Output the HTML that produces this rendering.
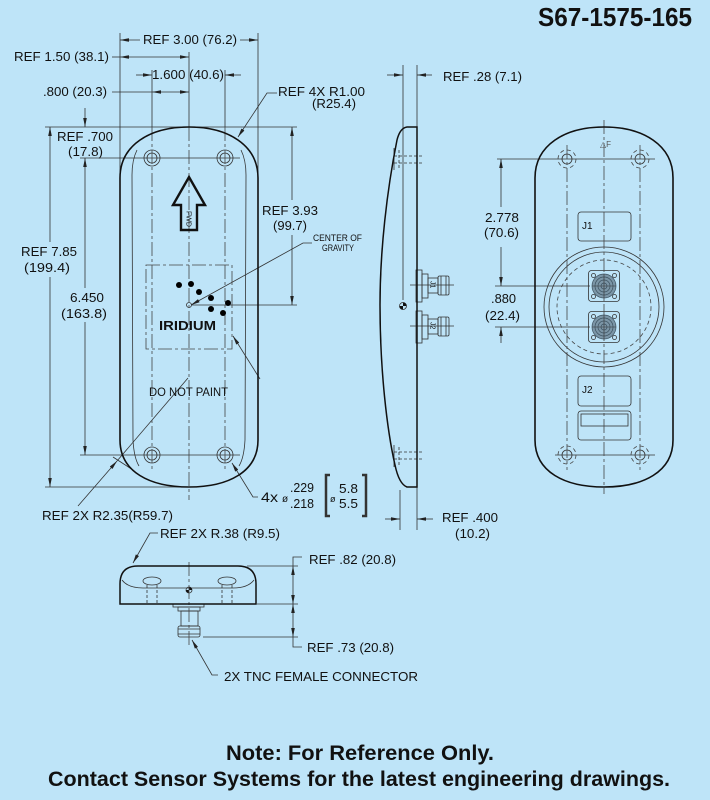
<!DOCTYPE html>
<html><head><meta charset="utf-8"><style>
html,body{margin:0;padding:0;background:#bee4f8;}
svg{display:block}
text{font-family:"Liberation Sans",Arial,sans-serif;fill:#111}
</style></head><body>
<svg width="710" height="800" viewBox="0 0 710 800" xmlns="http://www.w3.org/2000/svg">
<defs>
<marker id="a" viewBox="0 0 10 4" refX="10" refY="2" markerWidth="9" markerHeight="3.6" markerUnits="userSpaceOnUse" orient="auto"><path d="M0,0L10,2L0,4z" fill="#222"/></marker>
</defs>
<rect width="710" height="800" fill="#bee4f8"/>

<!-- ============ FRONT VIEW ============ -->
<g fill="none" stroke="#333" stroke-width="0.8">
  <path d="M120,33V175M258,33V175M189,52V127M152,70V127M225,70V127"/>
  <path d="M45,127H297M80,158H240M80,455H240M45,487H189M192,305H297"/>
  <path d="M140,40H120" marker-end="url(#a)"/>
  <path d="M240,40H258" marker-end="url(#a)"/>
  <path d="M112,57H120"/>
  <path d="M150,57H120" marker-end="url(#a)"/>
  <path d="M150,57H189" marker-end="url(#a)"/>
  <path d="M136,75H152" marker-end="url(#a)"/>
  <path d="M241,75H225" marker-end="url(#a)"/>
  <path d="M112,92H152"/>
  <path d="M170,92H152" marker-end="url(#a)"/>
  <path d="M170,92H189" marker-end="url(#a)"/>
  <path d="M85,108V127" marker-end="url(#a)"/>
  <path d="M85,288V158" marker-end="url(#a)"/>
  <path d="M85,322V455" marker-end="url(#a)"/>
  <path d="M50,242V127" marker-end="url(#a)"/>
  <path d="M50,277V487" marker-end="url(#a)"/>
  <path d="M292,200V127" marker-end="url(#a)"/>
  <path d="M292,235V305" marker-end="url(#a)"/>
  <path d="M277,93H267L238,137" marker-end="url(#a)"/>
  <path d="M312,243H303L191,305" marker-end="url(#a)"/>
  <path d="M260,379L233,336" marker-end="url(#a)"/>
  <path d="M117,461L188,378"/>
  <path d="M78,506L117,461" marker-end="url(#a)"/>
  <path d="M113,457L133,470"/>
  <path d="M258,497H253L232,463" marker-end="url(#a)"/>
  <path d="M137,150Q132,160 132,175L133,440Q134,458 139,466"/>
  <path d="M241,150Q246,160 246,175L245,440Q244,458 239,466"/>
  <circle cx="152" cy="158" r="8"/><circle cx="152" cy="158" r="5"/>
  <circle cx="225" cy="158" r="8"/><circle cx="225" cy="158" r="5"/>
  <circle cx="152" cy="455" r="8"/><circle cx="152" cy="455" r="5"/>
  <circle cx="225" cy="455" r="8"/><circle cx="225" cy="455" r="5"/>
  <circle cx="189" cy="305" r="2.5"/>
</g>
<g fill="none" stroke="#444" stroke-width="0.8" stroke-dasharray="14 3 3 3">
  <path d="M189,127V500M152,127V470M225,127V470"/>
  <rect x="146" y="265" width="86" height="84"/>
</g>
<path d="M120,178C120,145 150,127 189,127C228,127 258,145 258,178L258,440C258,472 228,487 189,487C150,487 120,472 120,440Z" fill="none" stroke="#111" stroke-width="1.6"/>
<path d="M189,177L205,205L197,205L197,230L181,230L181,205L173,205Z" fill="none" stroke="#111" stroke-width="2.4" stroke-linejoin="miter"/>
<text x="0" y="0" font-size="7" transform="translate(186.5,211) rotate(90)">FWD</text>
<g fill="#000">
  <circle cx="179" cy="285" r="3"/><circle cx="191" cy="284" r="3"/><circle cx="199" cy="292" r="3"/>
  <circle cx="211" cy="298" r="3"/><circle cx="228" cy="303" r="3"/><circle cx="211" cy="309" r="3"/>
  <circle cx="223" cy="313" r="3"/>
</g>
<text x="159" y="330" font-size="13" font-weight="bold" textLength="57" lengthAdjust="spacingAndGlyphs">IRIDIUM</text>
<text x="149" y="396" font-size="12" textLength="79" lengthAdjust="spacingAndGlyphs">DO NOT PAINT</text>

<g font-size="13">
  <text x="143" y="44" textLength="94" lengthAdjust="spacingAndGlyphs">REF 3.00 (76.2)</text>
  <text x="14" y="61" textLength="95" lengthAdjust="spacingAndGlyphs">REF 1.50 (38.1)</text>
  <text x="152" y="79" textLength="72" lengthAdjust="spacingAndGlyphs">1.600 (40.6)</text>
  <text x="43" y="96" textLength="64" lengthAdjust="spacingAndGlyphs">.800 (20.3)</text>
  <text x="278" y="96" textLength="87" lengthAdjust="spacingAndGlyphs">REF 4X R1.00</text>
  <text x="312" y="108" textLength="44" lengthAdjust="spacingAndGlyphs">(R25.4)</text>
  <text x="57" y="141" textLength="56" lengthAdjust="spacingAndGlyphs">REF .700</text>
  <text x="68" y="156" textLength="35" lengthAdjust="spacingAndGlyphs">(17.8)</text>
  <text x="262" y="215" textLength="56" lengthAdjust="spacingAndGlyphs">REF 3.93</text>
  <text x="273" y="230" textLength="34" lengthAdjust="spacingAndGlyphs">(99.7)</text>
  <text x="21" y="256" textLength="56" lengthAdjust="spacingAndGlyphs">REF 7.85</text>
  <text x="24" y="272" textLength="46" lengthAdjust="spacingAndGlyphs">(199.4)</text>
  <text x="70" y="302" textLength="34" lengthAdjust="spacingAndGlyphs">6.450</text>
  <text x="61" y="318" textLength="46" lengthAdjust="spacingAndGlyphs">(163.8)</text>
  <text x="42" y="520" textLength="131" lengthAdjust="spacingAndGlyphs">REF 2X R2.35(R59.7)</text>
  <text x="290" y="492" textLength="24" lengthAdjust="spacingAndGlyphs">.229</text>
  <text x="290" y="508" textLength="24" lengthAdjust="spacingAndGlyphs">.218</text>
  <text x="339" y="493" textLength="19" lengthAdjust="spacingAndGlyphs">5.8</text>
  <text x="339" y="508" textLength="19" lengthAdjust="spacingAndGlyphs">5.5</text>
</g>
<text x="261" y="502" font-size="14" textLength="17" lengthAdjust="spacingAndGlyphs">4x</text>
<text x="282" y="502" font-size="10">ø</text>
<text x="330" y="502" font-size="9">ø</text>
<path d="M330,475H326V516H330M362,475H366V516H362" fill="none" stroke="#333" stroke-width="2.5"/>
<text x="313" y="241" font-size="9" textLength="49" lengthAdjust="spacingAndGlyphs">CENTER  OF</text>
<text x="322" y="251" font-size="9" textLength="32" lengthAdjust="spacingAndGlyphs">GRAVITY</text>

<!-- ============ SIDE VIEW ============ -->
<g fill="none" stroke="#333" stroke-width="0.8">
  <path d="M403,65V300M417,65V127M400,490V530M417,487V530"/>
  <path d="M387,75H403" marker-end="url(#a)"/>
  <path d="M432,75H417" marker-end="url(#a)"/>
  <path d="M385,519H400" marker-end="url(#a)"/>
  <path d="M433,519H417" marker-end="url(#a)"/>
  <path d="M394,148V170M394,445V467"/>
  <path d="M394,156H422M394,163H422M399,150V168M394,452H422M394,459H422M399,447V465" stroke-dasharray="3 2"/>
  <rect x="416" y="270" width="6" height="32"/><rect x="422" y="274" width="6" height="24"/>
  <rect x="428" y="278" width="10" height="15"/><rect x="438" y="276" width="11" height="19" rx="1.5"/>
  <path d="M441,276V295M446,276V295M410,285H454"/>
  <rect x="416" y="311" width="6" height="32"/><rect x="422" y="315" width="6" height="24"/>
  <rect x="428" y="319" width="10" height="15"/><rect x="438" y="317" width="11" height="19" rx="1.5"/>
  <path d="M441,317V336M446,317V336M410,326H454"/>
  <circle cx="403" cy="306" r="3.5"/>
</g>
<path d="M403,302.5A3.5,3.5 0 0 1 406.5,306L403,306ZM403,309.5A3.5,3.5 0 0 1 399.5,306L403,306Z" fill="#111"/>
<text font-size="7" transform="translate(430.5,281) rotate(90)">J1</text>
<text font-size="7" transform="translate(430.5,322) rotate(90)">J2</text>
<path d="M417,127L407,127Q400,128 397,140C387,190 380,250 380,305C380,370 387,430 395,465Q399,484 407,487L417,487Z" fill="none" stroke="#111" stroke-width="1.5"/>
<g font-size="13">
  <text x="443" y="81" textLength="79" lengthAdjust="spacingAndGlyphs">REF .28 (7.1)</text>
  <text x="442" y="522" textLength="56" lengthAdjust="spacingAndGlyphs">REF .400</text>
  <text x="455" y="538" textLength="35" lengthAdjust="spacingAndGlyphs">(10.2)</text>
</g>

<!-- ============ BACK VIEW ============ -->
<g fill="none" stroke="#333" stroke-width="0.8">
  <path d="M497,159H655M555,455H655M495,286H590M495,327H590"/>
  <path d="M501,207V159" marker-end="url(#a)"/>
  <path d="M501,247V286" marker-end="url(#a)"/>
  <path d="M501,343V327" marker-end="url(#a)"/>
  <circle cx="567" cy="159" r="5"/><circle cx="640" cy="159" r="5"/>
  <circle cx="567" cy="455" r="5"/><circle cx="640" cy="455" r="5"/>
  <circle cx="604" cy="307" r="60"/><circle cx="604" cy="307" r="55"/>
  <rect x="578" y="212" width="53" height="29" rx="3"/>
  <rect x="578" y="376" width="53" height="30" rx="3"/>
  <rect x="578" y="411" width="53" height="29" rx="3"/>
  <rect x="581" y="414" width="47" height="12"/>
  <rect x="588.5" y="270.5" width="31" height="31" rx="3"/>
  <rect x="588.5" y="311.5" width="31" height="31" rx="3"/>
  <circle cx="593.5" cy="275.5" r="2"/><circle cx="614.5" cy="275.5" r="2"/>
  <circle cx="593.5" cy="296.5" r="2"/><circle cx="614.5" cy="296.5" r="2"/>
  <circle cx="593.5" cy="316.5" r="2"/><circle cx="614.5" cy="316.5" r="2"/>
  <circle cx="593.5" cy="337.5" r="2"/><circle cx="614.5" cy="337.5" r="2"/>
</g>
<g fill="none" stroke="#444" stroke-width="0.8" stroke-dasharray="4 3">
  <circle cx="567" cy="159" r="9"/><circle cx="640" cy="159" r="9"/>
  <circle cx="567" cy="455" r="9"/><circle cx="640" cy="455" r="9"/>
  <circle cx="604" cy="307" r="47"/>
</g>
<g fill="none" stroke="#444" stroke-width="0.8" stroke-dasharray="14 3 3 3">
  <path d="M604,120V494M567,145V470M640,145V470"/>
</g>
<g stroke="#3d5260" stroke-width="0.7">
  <circle cx="604" cy="286" r="12" fill="#7b95a6"/><circle cx="604" cy="286" r="9" fill="none"/>
  <circle cx="604" cy="286" r="6" fill="none"/><circle cx="604" cy="286" r="3" fill="none"/>
  <circle cx="604" cy="327" r="12" fill="#7b95a6"/><circle cx="604" cy="327" r="9" fill="none"/>
  <circle cx="604" cy="327" r="6" fill="none"/><circle cx="604" cy="327" r="3" fill="none"/>
</g>
<path d="M592,286H616M604,274V298M592,327H616M604,315V339" stroke="#333" stroke-width="0.6"/>
<path d="M535,178C535,145 565,127 604,127C643,127 673,145 673,178L673,440C673,472 643,487 604,487C565,487 535,472 535,440Z" fill="none" stroke="#111" stroke-width="1.6"/>
<text x="600" y="147" font-size="8" style="fill:#555">△F</text>
<text x="582" y="229" font-size="10">J1</text>
<text x="582" y="393" font-size="10">J2</text>
<g font-size="13">
  <text x="485" y="222" textLength="34" lengthAdjust="spacingAndGlyphs">2.778</text>
  <text x="484" y="237" textLength="35" lengthAdjust="spacingAndGlyphs">(70.6)</text>
  <text x="491" y="303" textLength="25" lengthAdjust="spacingAndGlyphs">.880</text>
  <text x="485" y="320" textLength="35" lengthAdjust="spacingAndGlyphs">(22.4)</text>
</g>

<!-- ============ BOTTOM VIEW ============ -->
<g fill="none" stroke="#333" stroke-width="0.8">
  <path d="M122,580Q128,588 143,588H233Q248,588 254,580"/>
  <ellipse cx="152" cy="581" rx="9" ry="4"/><ellipse cx="227" cy="581" rx="9" ry="4"/>
  <path d="M147,585V604M157,585V604M222,585V604M232,585V604" stroke-dasharray="3 2"/>
  <path d="M247,566H298M257,604H298M203,637H298"/>
  <path d="M302,557H293V566"/>
  <path d="M293,585V566" marker-end="url(#a)"/>
  <path d="M293,585V604" marker-end="url(#a)"/>
  <path d="M293,620V604" marker-end="url(#a)"/>
  <path d="M293,620V637" marker-end="url(#a)"/>
  <path d="M293,637V647H302"/>
  <path d="M158,533H150L133,563" marker-end="url(#a)"/>
  <path d="M218,675H212L192,640" marker-end="url(#a)"/>
  <rect x="173" y="604" width="31" height="3"/>
  <rect x="178" y="607" width="22" height="4"/>
  <rect x="181" y="611" width="17" height="15"/>
  <rect x="178" y="626" width="22" height="11" rx="2"/>
  <path d="M178,629H200M178,634H200"/>
  <circle cx="189" cy="590" r="3"/>
</g>
<path d="M189,587A3,3 0 0 1 192,590L189,590ZM189,593A3,3 0 0 1 186,590L189,590Z" fill="#111"/>
<path d="M189,562V645" fill="none" stroke="#444" stroke-width="0.8" stroke-dasharray="14 3 3 3"/>
<path d="M120,604L120,584Q120,566 138,566L238,566Q256,566 256,584L256,604Z" fill="none" stroke="#111" stroke-width="1.5"/>
<g font-size="13">
  <text x="160" y="538" textLength="120" lengthAdjust="spacingAndGlyphs">REF 2X R.38 (R9.5)</text>
  <text x="309" y="564" textLength="87" lengthAdjust="spacingAndGlyphs">REF .82 (20.8)</text>
  <text x="307" y="652" textLength="87" lengthAdjust="spacingAndGlyphs">REF .73 (20.8)</text>
  <text x="224" y="681" textLength="194" lengthAdjust="spacingAndGlyphs">2X TNC FEMALE CONNECTOR</text>
</g>

<!-- ============ TITLE / FOOTER ============ -->
<text x="538" y="26" font-size="26" font-weight="bold" textLength="154" lengthAdjust="spacingAndGlyphs">S67-1575-165</text>
<text x="226" y="760" font-size="21" font-weight="bold" textLength="268" lengthAdjust="spacingAndGlyphs">Note:  For Reference Only.</text>
<text x="48" y="786" font-size="21" font-weight="bold" textLength="622" lengthAdjust="spacingAndGlyphs">Contact Sensor Systems for the latest engineering drawings.</text>
</svg>
</body></html>
